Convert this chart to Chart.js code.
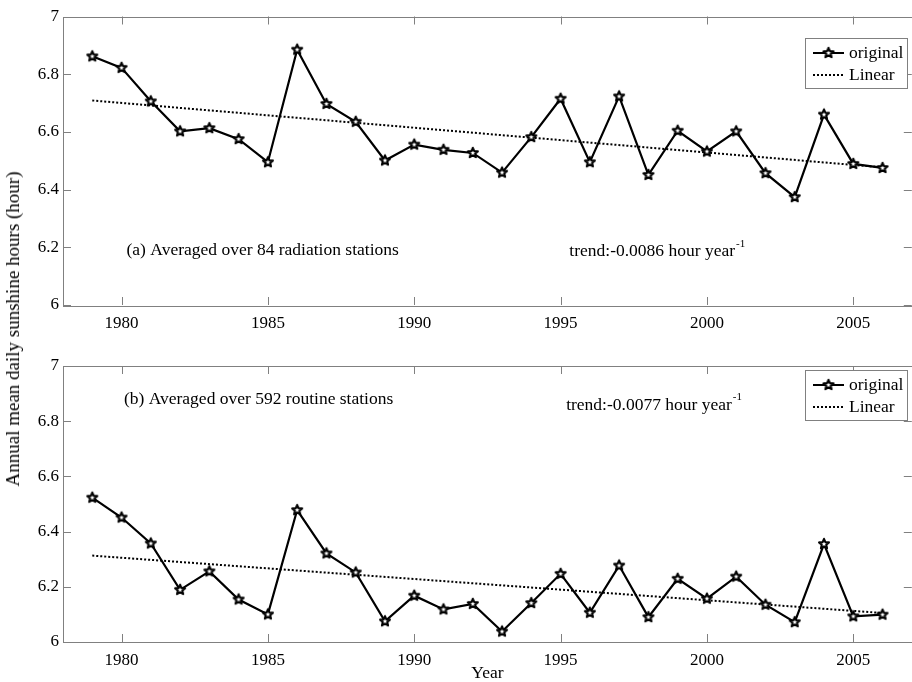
<!DOCTYPE html>
<html>
<head>
<meta charset="utf-8">
<script src="https://cdn.jsdelivr.net/npm/chart.js@4.4.0/dist/chart.umd.min.js"></script>
<style>
  html, body { margin: 0; padding: 0; background: #fff; overflow: hidden; }
  #wrap { position: relative; width: 912px; height: 682px; overflow: hidden; background: #fff; }
  .panel { position: absolute; left: 0; }
  .panel canvas { display: block; }
  #ytitle {
    position: absolute; left: 13px; top: 329px;
    transform: translate(-50%, -50%) rotate(-90deg);
    font: 19px "Liberation Serif", serif; color: #000; white-space: nowrap;
  }
</style>
</head>
<body>
<div id="wrap">
  <div class="panel" style="top:0"><canvas id="chartA" width="920" height="335"></canvas></div>
  <div class="panel" style="top:335px"><canvas id="chartB" width="920" height="347"></canvas></div>
  <div id="ytitle">Annual mean daily sunshine hours (hour)</div>
</div>
<script>
// annual mean daily sunshine hours, 1979-2006
const years = [1979, 1980, 1981, 1982, 1983, 1984, 1985, 1986, 1987, 1988, 1989, 1990, 1991, 1992,
               1993, 1994, 1995, 1996, 1997, 1998, 1999, 2000, 2001, 2002, 2003, 2004, 2005, 2006];
const radiationHours = [6.862, 6.822, 6.706, 6.602, 6.613, 6.575, 6.495, 6.885, 6.697, 6.635, 6.501, 6.556, 6.538, 6.527,
                        6.459, 6.582, 6.715, 6.495, 6.723, 6.451, 6.604, 6.532, 6.602, 6.457, 6.374, 6.660, 6.489, 6.475];
const routineHours = [6.523, 6.451, 6.357, 6.189, 6.256, 6.154, 6.100, 6.478, 6.321, 6.252, 6.075, 6.168, 6.118, 6.138,
                      6.038, 6.141, 6.247, 6.106, 6.277, 6.090, 6.229, 6.157, 6.237, 6.135, 6.072, 6.355, 6.093, 6.099];

// linear fits (end points)
const fitYears = [1979, 2006];
const radiationFit = [6.709, 6.477];
const routineFit = [6.313, 6.105];

const xTicks = [1980, 1985, 1990, 1995, 2000, 2005];
const yTicks = [6, 6.2, 6.4, 6.6, 6.8, 7];
const legendLabels = ['original', 'Linear'];

const FONT = '"Liberation Serif", serif';
const AXIS_GREY = '#808080';
const TICK_LEN = 8;

// pentagram marker like matlab's 'p'
function makeStar(r) {
    const s = Math.ceil(r * 2 + 5);
    const c = document.createElement('canvas');
    c.width = s; c.height = s;
    const g = c.getContext('2d');
    g.beginPath();
    for (let i = 0; i < 10; i++) {
        const rad = i % 2 ? r * 0.45 : r;
        const a = -Math.PI / 2 + i * Math.PI / 5;
        g.lineTo(s / 2 + rad * Math.cos(a), s / 2 + rad * Math.sin(a));
    }
    g.closePath();
    g.fillStyle = '#fff';
    g.fill();
    g.lineWidth = 2.1;
    g.lineJoin = 'round';
    g.strokeStyle = '#000';
    g.stroke();
    return c;
}
const star = makeStar(5.2);

// box, inward ticks, legend and text notes
const panelPlugin = {
    id: 'panel',
    beforeDatasetsDraw(chart) {
        const {ctx, chartArea: a, scales: {x, y}} = chart;
        ctx.save();
        ctx.strokeStyle = AXIS_GREY;
        ctx.lineWidth = 1;
        ctx.strokeRect(Math.round(a.left) + 0.5, Math.round(a.top) + 0.5,
                       Math.round(a.right - a.left), Math.round(a.bottom - a.top));
        ctx.beginPath();
        xTicks.forEach(v => {
            const px = Math.round(x.getPixelForValue(v)) + 0.5;
            ctx.moveTo(px, a.bottom); ctx.lineTo(px, a.bottom - TICK_LEN);
            ctx.moveTo(px, a.top); ctx.lineTo(px, a.top + TICK_LEN);
        });
        yTicks.forEach(v => {
            const py = Math.round(y.getPixelForValue(v)) + 0.5;
            ctx.moveTo(a.left, py); ctx.lineTo(a.left + TICK_LEN, py);
            ctx.moveTo(a.right, py); ctx.lineTo(a.right - TICK_LEN, py);
        });
        ctx.stroke();
        ctx.restore();
    },
    afterDatasetsDraw(chart, args, opts) {
        const {ctx, chartArea: a, scales: {x, y}} = chart;
        ctx.save();
        ctx.fillStyle = '#000';
        ctx.textBaseline = 'middle';
        ctx.textAlign = 'left';

        // text notes
        opts.notes.forEach(n => {
            const px = x.getPixelForValue(n.x);
            const py = y.getPixelForValue(n.y);
            ctx.font = '17.5px ' + FONT;
            ctx.fillText(n.text, px, py);
            if (n.sup) {
                const w = ctx.measureText(n.text).width;
                ctx.font = '11px ' + FONT;
                ctx.fillText(n.sup, px + w + 1, py - 8);
            }
        });

        // legend
        const w = 102, h = 50;
        const left = Math.round(a.right - 4.5 - w), top = Math.round(a.top + opts.legendTop);
        ctx.fillStyle = '#fff';
        ctx.fillRect(left, top, w, h);
        ctx.strokeStyle = AXIS_GREY;
        ctx.lineWidth = 1;
        ctx.strokeRect(left + 0.5, top + 0.5, w, h);

        const rows = [top + 15, top + 37];
        ctx.strokeStyle = '#000';
        ctx.lineWidth = 2;
        ctx.beginPath();
        ctx.moveTo(left + 8, rows[0]); ctx.lineTo(left + 39, rows[0]);
        ctx.stroke();
        ctx.drawImage(star, left + 23.5 - star.width / 2, rows[0] - star.height / 2);
        ctx.setLineDash([2, 2]);
        ctx.beginPath();
        ctx.moveTo(left + 8, rows[1]); ctx.lineTo(left + 39, rows[1]);
        ctx.stroke();
        ctx.setLineDash([]);

        ctx.fillStyle = '#000';
        ctx.font = '17.5px ' + FONT;
        legendLabels.forEach((t, i) => ctx.fillText(t, left + 44, rows[i]));
        ctx.restore();
    }
};

function makeChart(id, values, fit, opts) {
    const tickFont = {family: FONT, size: 17};
    return new Chart(document.getElementById(id), {
        type: 'line',
        data: {
            datasets: [{
                label: legendLabels[0],
                data: years.map((yr, i) => ({x: yr, y: values[i]})),
                borderColor: '#000',
                borderWidth: 2.2,
                pointStyle: star,
                pointRadius: 6,
                pointHoverRadius: 6,
                tension: 0,
                fill: false
            }, {
                label: legendLabels[1],
                data: fitYears.map((yr, i) => ({x: yr, y: fit[i]})),
                borderColor: '#000',
                borderWidth: 2,
                borderDash: [2, 2],
                pointRadius: 0,
                fill: false
            }]
        },
        options: {
            responsive: false,
            animation: false,
            devicePixelRatio: 1,
            events: [],
            layout: {padding: {top: opts.padTop, right: 4.5, left: 0, bottom: 0}},
            plugins: {
                legend: {display: false},
                tooltip: {enabled: false},
                panel: {notes: opts.notes, legendTop: opts.legendTop}
            },
            scales: {
                x: {
                    type: 'linear',
                    min: 1978,
                    max: 2007,
                    grid: {display: false, drawTicks: false},
                    border: {display: false},
                    afterBuildTicks: s => { s.ticks = xTicks.map(v => ({value: v})); },
                    afterFit: s => { s.height = opts.xHeight; },
                    ticks: {
                        color: '#000', font: tickFont, padding: 8,
                        maxRotation: 0, autoSkip: false,
                        callback: v => String(v)
                    },
                    title: {
                        display: !!opts.xTitle,
                        text: opts.xTitle,
                        color: '#000',
                        font: {family: FONT, size: 17.5, lineHeight: 1},
                        padding: {top: 0, bottom: 0}
                    }
                },
                y: {
                    min: 6,
                    max: 7,
                    grid: {display: false, drawTicks: false},
                    border: {display: false},
                    afterBuildTicks: s => { s.ticks = yTicks.map(v => ({value: v})); },
                    afterFit: s => { s.width = 63; },
                    ticks: {
                        color: '#000', font: tickFont, padding: 4,
                        callback: v => String(+v.toFixed(1))
                    }
                }
            }
        },
        plugins: [panelPlugin]
    });
}

makeChart('chartA', radiationHours, radiationFit, {
    padTop: 16.5,
    xHeight: 30,
    legendTop: 21.5,
    notes: [
        {text: '(a) Averaged over 84 radiation stations', x: 1980.17, y: 6.19},
        {text: 'trend:-0.0086 hour year', sup: '-1', x: 1995.3, y: 6.185}
    ]
});

makeChart('chartB', routineHours, routineFit, {
    padTop: 31,
    xHeight: 40,
    xTitle: 'Year',
    legendTop: 4,
    notes: [
        {text: '(b) Averaged over 592 routine stations', x: 1980.08, y: 6.88},
        {text: 'trend:-0.0077 hour year', sup: '-1', x: 1995.19, y: 6.859}
    ]
});
</script>
</body>
</html>
